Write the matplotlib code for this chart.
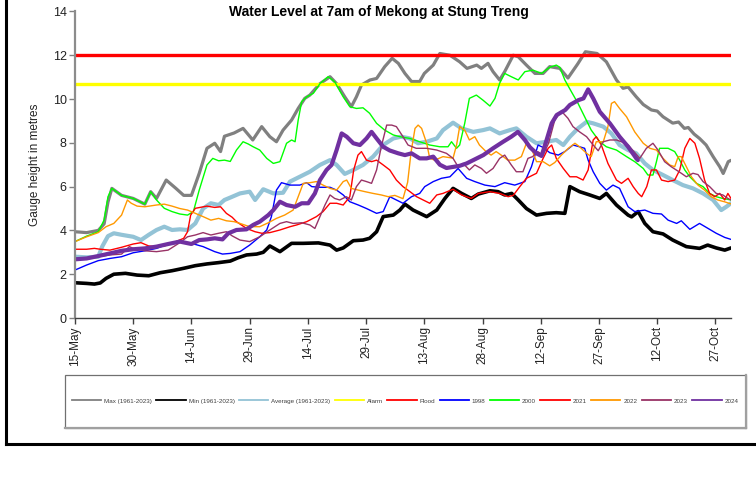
import matplotlib.pyplot as plt
from matplotlib.lines import Line2D
from matplotlib.patches import Rectangle

plt.rcParams['font.family'] = ['Liberation Sans', 'DejaVu Sans']

# x values are days after 15-May
tick_days = [0, 15, 30, 45, 60, 75, 90, 105, 120, 135, 150, 165]
tick_labels = ['15-May', '30-May', '14-Jun', '29-Jun', '14-Jul', '29-Jul',
               '13-Aug', '28-Aug', '12-Sep', '27-Sep', '12-Oct', '27-Oct']

alarm_level = 10.7
flood_level = 12.0

# (day, gauge height)
max_pts = [(0,3.94),(3,3.9),(6,4.0),(7.5,4.3),(8.5,5.3),(9.5,5.92),(12,5.6),(15,5.46),(18,5.2),(19.5,5.77),
           (21,5.46),(23.5,6.3),(26,5.92),(28,5.6),(30,5.6),(32,6.6),(34,7.75),(36,7.98),(37.5,7.6),(38.5,8.3),
           (41,8.45),(43.3,8.66),(45.8,8.13),(48.1,8.74),(50.2,8.28),(51.9,8.05),(53.6,8.58),(55.8,9.04),(57.5,9.57),
           (59.2,10.03),(60.5,10.18),(63.1,10.7),(65.7,11.02),(67.4,10.7),(69.5,10.1),(71.2,9.65),(72.5,10.1),
           (73.8,10.64),(76,10.87),(77.7,10.94),(79.8,11.48),(81.7,11.86),(83.3,11.63),(85,11.17),(86.7,10.8),
           (88.8,10.8),(90,11.17),(92.3,11.55),(94,12.08),(96.6,12.0),(99.1,11.7),(101,11.4),(103.5,11.55),
           (104.7,11.4),(106.4,11.63),(107.7,11.25),(109.4,10.87),(110.7,11.25),(112.9,12.0),(114.2,11.93),
           (116.3,11.55),(118.5,11.17),(120.6,11.17),(122.3,11.48),(124.9,11.4),(127,10.96),(129.5,11.6),
           (131.5,12.16),(134.5,12.08),(136.9,11.7),(139.5,10.87),(141.2,10.49),(142.5,10.55),(144.6,10.1),
           (146.4,9.75),(148.5,9.5),(150,9.45),(151.5,9.19),(154,8.9),(155.5,8.95),(157,8.66),(158,8.7),
           (159.5,8.4),(160.9,8.2),(162.6,7.9),(164.4,7.37),(166.1,6.91),(167,6.6),(168.3,7.14),(169,7.2)]

min_pts = [(0,1.61),(3,1.58),(5,1.55),(6.5,1.6),(8,1.81),(10,2.0),(13,2.04),(16,1.96),(19,1.93),(22,2.07),
           (25,2.16),(28,2.27),(31,2.39),(34,2.47),(37,2.53),(40,2.6),(42,2.75),(44.2,2.88),(46.8,2.92),(48.5,3.0),
           (50.2,3.29),(52.8,3.03),(55.8,3.41),(58.8,3.41),(62.7,3.43),(65.7,3.33),(67.4,3.1),(69.1,3.2),
           (71.7,3.53),(74.2,3.56),(75.9,3.64),(77.7,3.94),(79.4,4.63),(82,4.7),(83.7,4.93),(85,5.2),(87.1,4.93),
           (90.6,4.63),(93.2,4.93),(95.3,5.46),(97.4,5.92),(99.6,5.69),(102.1,5.46),(103.9,5.66),(106.9,5.81),
           (109,5.77),(110.7,5.62),(112.5,5.69),(114.2,5.39),(116.3,5.0),(118.9,4.7),(121.5,4.78),(124,4.81),
           (126.2,4.78),(127.5,6.0),(130,5.77),(132.6,5.62),(135.2,5.46),(136.9,5.69),(139.5,5.16),(142.5,4.7),
           (143.4,4.62),(145.1,4.86),(146.8,4.32),(148.9,3.94),(151.5,3.84),(154,3.56),(157.5,3.26),
           (160.9,3.18),(163,3.33),(165.2,3.2),(167.4,3.1),(169,3.2)]

avg_pts = [(0,2.8),(3,2.77),(6,2.8),(7,3.26),(8.5,3.74),(10,3.87),(12,3.8),(15,3.71),(17,3.56),(19,3.8),
           (21,4.02),(23,4.17),(25,4.02),(27,4.05),(29,4.02),(31,4.32),(33,5.0),(35,5.24),(37,5.16),(38.5,5.39),
           (40,5.5),(42.5,5.69),(45,5.77),(46.4,5.39),(48.5,5.88),(51.1,5.69),(53.6,5.72),(55.4,6.23),(57.9,6.45),
           (60.5,6.68),(63.1,6.99),(65.7,7.21),(67.4,6.99),(69.5,6.58),(71.7,6.76),(74.2,6.99),(76.8,7.37),
           (79.4,7.9),(82,8.2),(84,8.28),(86.3,8.2),(88.4,7.98),(90.6,8.05),(93.2,8.2),(94.8,8.58),(97.4,8.92),
           (99.6,8.66),(102.6,8.5),(105.1,8.58),(106.9,8.66),(109.4,8.43),(112,8.58),(113.7,8.66),(116.3,8.28),
           (118.9,7.98),(121.5,8.05),(124,8.13),(125.8,7.9),(127.5,8.28),(129.6,8.66),(131.8,8.96),(133.5,8.89),
           (136.1,8.74),(138.2,8.43),(140.3,7.9),(142.5,7.67),(144.6,7.52),(146.8,7.06),(148.9,6.76),
           (151.5,6.53),(154,6.3),(156.6,6.07),(159.2,5.92),(161.8,5.69),(164.4,5.39),(166.5,4.93),
           (167.8,5.08),(169,5.24)]

y1998_pts = [(0,2.19),(3,2.42),(6,2.62),(9,2.72),(12,2.8),(15,2.98),(18,3.07),(21,3.18),(24,3.38),(27,3.49),
             (30,3.41),(33,3.26),(36,3.03),(38,2.92),(40,2.95),(42.5,3.03),(45,3.33),(47.6,3.71),(49.4,4.02),
             (50.6,4.63),(51.9,5.84),(53.2,6.18),(55.4,6.07),(57.9,6.07),(59.7,6.18),(61,6.0),(63.1,5.97),
             (65.7,5.97),(67.4,5.84),(69.1,5.62),(70.8,5.31),(73,5.16),(75.1,5.0),(77.7,4.78),(79.4,4.86),
             (81.1,5.54),(82.8,5.39),(84.5,5.24),(86.7,5.54),(88.8,5.69),(90.1,6.0),(92.3,6.23),(94.4,6.38),
             (96.6,6.45),(98.7,6.83),(100.9,6.38),(103,6.23),(105.6,6.07),(108.2,6.0),(110.7,6.18),(113.3,6.07),
             (115.9,6.23),(117.6,6.91),(119.3,7.9),(120.6,7.79),(122.3,7.55),(124.5,7.44),(126.2,7.6),(128.3,7.9),
             (130,7.82),(131.3,7.75),(132.2,7.21),(133.5,6.68),(135.2,6.15),(136.9,5.84),(138.6,6.07),
             (140.3,5.92),(142.5,5.08),(144.2,4.86),(146.8,4.93),(148.9,4.78),(151.1,4.75),(152.8,4.47),
             (155,4.32),(156.2,4.44),(158.4,4.05),(160.9,4.32),(163.1,4.09),(165.2,3.87),(167.4,3.68),(169,3.59)]

y2000_pts = [(0,3.49),(3,3.74),(6,3.94),(7.5,4.47),(8.5,5.54),(9.5,5.92),(12,5.6),(15,5.46),(18,5.2),
             (19.5,5.77),(21,5.39),(23,5.01),(25,4.86),(27,4.75),(29,4.7),(30.5,4.86),(32,5.84),(34,6.99),
             (35.5,7.29),(37,7.18),(38.5,7.21),(40,7.15),(41.6,7.67),(43.3,8.05),(44.6,7.95),(45.9,7.82),
             (47.6,7.67),(49.4,7.29),(51.1,7.06),(52.8,7.14),(54.5,7.98),(55.8,8.13),(56.7,8.05),(57.5,9.04),
             (58.4,9.88),(59.7,10.1),(61.4,10.26),(63.1,10.7),(65.2,11.02),(66.9,10.79),(69.1,10.1),(70.8,9.65),
             (72.5,9.57),(74.2,9.6),(75.9,9.35),(77.7,8.89),(79.8,8.58),(82,8.36),(83.7,8.28),(86.3,8.2),
             (88.8,8.05),(91.4,7.9),(94,7.82),(96.1,7.82),(97,8.05),(98.3,7.75),(99.1,7.9),(100.4,8.89),
             (101.6,10.03),(103.4,10.18),(105.1,9.95),(106.9,9.68),(108.2,10.03),(109.4,10.72),(110.7,11.17),
             (112.4,11.02),(114.2,10.87),(115.9,11.25),(118,11.32),(120.2,11.17),(122.3,11.45),(124,11.55),
             (124.9,11.45),(126.2,10.87),(127.9,10.33),(129.6,9.8),(131.3,9.19),(133,8.58),(135.2,8.05),
             (136.9,7.82),(139.5,7.67),(142.1,7.37),(144.2,7.14),(146.4,6.83),(147.6,6.53),(148.9,6.53),
             (149.8,7.14),(150.6,7.75),(152.8,7.75),(154.5,7.6),(155.8,7.21),(157.1,6.76),(158.4,6.45),
             (160.1,6.15),(161.8,6.0),(163.5,5.69),(165.2,5.54),(166.9,5.46),(169,5.39)]

y2021_pts = [(0,3.14),(3,3.14),(5,3.18),(6.5,3.14),(9,3.1),(12,3.23),(15,3.38),(17,3.44),(19,3.29),(21,3.26),
             (23,3.29),(26,3.49),(28,3.64),(29,3.94),(29.8,4.7),(31,5.01),(34,5.11),(36,5.05),(37.5,5.08),
             (39,4.78),(40.5,4.6),(41.6,4.4),(44.2,4.09),(46.4,3.94),(48.1,3.87),(50.2,3.9),(52.8,4.02),
             (55.4,4.17),(57.1,4.25),(59.7,4.4),(62.2,4.63),(63.9,4.86),(65.7,5.24),(67.4,5.24),(69.1,5.16),
             (70.8,5.54),(71.8,6.76),(72.9,7.44),(73.8,7.6),(75.1,7.21),(76.4,7.14),(77.7,7.21),(79.4,6.99),
             (81.1,6.76),(82.8,6.3),(84.5,6.0),(86.3,5.77),(88,5.54),(89.7,5.39),(91.4,5.24),(93.2,5.62),
             (94.8,5.69),(97.4,5.88),(99.6,5.62),(102.1,5.46),(103.9,5.69),(106.9,5.77),(109.4,5.69),
             (111.6,5.54),(112.9,5.6),(114.6,6.0),(116.3,6.38),(118.9,6.61),(120.6,7.29),(121.9,7.75),
             (122.8,7.9),(124,7.29),(125.8,6.83),(127.5,6.45),(129.2,6.45),(130.9,6.3),(132.2,6.76),(133.5,8.13),
             (134.3,8.28),(135.6,7.9),(137.3,7.06),(139.5,6.3),(140.8,6.15),(142.5,6.38),(143.8,6.0),(145.1,5.69),
             (146,5.54),(147.3,6.0),(148.5,6.76),(149.8,6.76),(151.1,6.3),(152.8,6.23),(154.5,6.3),(155.8,6.76),
             (157.1,7.75),(158.4,8.2),(159.7,7.98),(160.9,7.29),(162.2,6.3),(163.5,5.69),(164.8,5.54),
             (166.1,5.69),(167.4,5.39),(168.2,5.69),(169,5.46)]

y2022_pts = [(0,3.49),(3,3.71),(6,3.9),(8,4.17),(10,4.32),(12,4.7),(13.5,5.39),(14.5,5.24),(16,5.11),(18,5.08),
             (21,5.16),(23,5.2),(25,5.11),(27,5.0),(29,4.93),(31,4.78),(33,4.63),(35,4.47),(37,4.55),(39,4.44),
             (41,4.4),(42.5,4.32),(45,4.17),(47.6,4.17),(49.8,4.35),(51.9,4.55),(54,4.7),(56.2,4.93),(57.5,5.54),
             (58.8,6.15),(60.5,6.18),(62.2,6.23),(63.9,6.07),(65.7,5.92),(67.4,5.84),(69.1,6.23),(70,6.3),
             (71.2,5.92),(73,5.84),(74.7,5.77),(76.8,5.69),(78.9,5.62),(80.7,5.54),(82.4,5.6),(84.5,5.45),
             (85.7,6.2),(86.6,7.6),(87.6,8.66),(88.4,8.81),(89.3,8.66),(90.6,7.98),(91.4,7.29),(92.7,7.21),
             (94.8,7.37),(97.4,7.3),(98.3,7.9),(99.1,8.74),(100.4,8.58),(101.6,8.13),(103,8.28),(104.2,7.9),
             (105.9,7.6),(107.2,7.44),(108.5,7.6),(109.8,7.44),(111.5,7.21),(113.3,7.21),(115,7.37),(116.3,7.98),
             (117.6,7.75),(118.9,7.14),(120.6,7.14),(122.3,6.95),(123.6,7.1),(125.3,7.44),(127.1,7.75),
             (128.8,7.98),(130,7.82),(131.8,7.52),(133,7.37),(134.3,8.05),(136.1,8.05),(137.3,8.74),(138.2,9.8),
             (139,9.88),(140.3,9.57),(142.1,9.19),(144.2,8.5),(146.4,7.98),(148.1,7.75),(149.8,7.67),
             (151.5,7.29),(153.2,6.99),(154.5,6.91),(155.4,7.37),(156.2,7.37),(157.5,6.91),(158.8,6.45),
             (160.5,6.07),(162.2,5.84),(163.9,5.54),(165.6,5.39),(167.3,5.31),(169,5.21)]

y2023_pts = [(0,2.72),(3,2.72),(6,2.8),(9,2.88),(12,2.92),(14,3.26),(15,3.18),(18,3.07),(21,3.03),(24,3.1),
             (27,3.44),(29,3.71),(31,3.79),(33,3.9),(35,3.79),(37,3.87),(39,3.94),(40.5,3.75),(42.5,3.56),
             (45,3.49),(47.6,3.71),(50.2,4.02),(52.8,4.32),(54.5,4.4),(56.2,4.32),(58.4,4.35),(60.5,4.25),
             (61.8,4.09),(63.1,4.63),(64.4,5.16),(65.7,5.62),(66.9,5.46),(68.2,5.39),(69.9,5.54),(71.2,5.39),
             (72.5,6.0),(73.8,6.3),(75.1,6.23),(76.4,6.15),(77.7,6.76),(78.9,7.82),(80.3,8.81),(81.6,8.81),
             (82.8,8.74),(84.5,8.28),(85.8,7.9),(87.9,7.75),(90.6,7.75),(93.2,7.67),(95.7,7.52),(97.4,7.29),
             (98.7,6.91),(100,7.06),(101.6,6.76),(103,6.99),(104.7,6.83),(106,6.61),(107.7,6.83),(109.4,7.29),
             (110.7,7.44),(112.4,6.99),(113.7,6.68),(115.4,6.68),(116.7,7.29),(117.9,7.37),(119.2,7.6),
             (120.6,7.44),(122,7.98),(123.6,9.04),(125.3,9.45),(127,9.12),(128.3,8.74),(130,8.5),(131.8,8.28),
             (133.5,7.9),(134.8,7.64),(136.1,8.05),(137.8,8.13),(139.5,8.13),(140.8,8.05),(142.5,7.9),(144,7.6),
             (145.5,7.29),(147.2,7.75),(148.9,7.98),(150.2,7.67),(151.9,7.14),(153.6,6.91),(154.9,6.76),
             (156.2,6.61),(157.5,6.45),(159.2,6.61),(160.5,6.55),(161.8,6.23),(163.5,6.0),(165.2,5.69),
             (166.9,5.62),(168.2,5.46),(169,5.39)]

y2024_pts = [(0,2.68),(3,2.72),(6,2.83),(9,2.95),(12,3.07),(15,3.14),(18,3.18),(21,3.26),(24,3.38),(27,3.49),
             (30,3.38),(32,3.56),(34,3.59),(36,3.64),(38,3.59),(39.5,3.87),(41.6,4.02),(44.2,4.05),(45.9,4.25),
             (47.6,4.4),(49.8,4.7),(51.1,4.93),(52.8,5.31),(54.5,5.16),(56.7,5.08),(58.4,5.24),(60.1,5.24),
             (61.8,5.69),(63.1,6.3),(64.8,6.76),(66.1,6.99),(67.4,7.67),(68.7,8.43),(70,8.28),(71.7,7.98),
             (73.4,7.9),(75.1,8.2),(76.4,8.5),(77.7,8.2),(79.4,7.82),(81.1,7.65),(83.3,7.52),(85,7.44),
             (86.7,7.52),(88.8,7.29),(90.6,7.29),(92.3,7.37),(94,7.0),(95.7,6.85),(97.4,6.9),(99.1,6.95),
             (100.9,7.06),(102.6,7.21),(105.2,7.44),(107.7,7.75),(110.3,8.05),(112.4,8.28),(114.1,8.5),
             (115.9,8.13),(117.2,7.8),(118.9,7.52),(120.2,7.4),(121.5,8.13),(122.8,8.89),(124.1,9.27),
             (126.3,9.5),(127.5,9.73),(129.7,9.95),(131,10.03),(132.2,10.44),(133.5,10.03),(135.2,9.42),
             (137.8,8.89),(140.3,8.28),(142.5,7.82),(144.6,7.29),(145,7.21)]

fig = plt.figure(figsize=(7.56, 4.79), dpi=100)
ax = fig.add_axes([0.0992, 0.3361, 0.8677, 0.640])


def draw(pts, color, lw):
    days = [p[0] for p in pts]
    vals = [p[1] for p in pts]
    ax.plot(days, vals, color=color, lw=lw, solid_joinstyle='round', solid_capstyle='round')


draw(max_pts, '#808080', 2.3)
draw(min_pts, '#000000', 2.6)
draw(avg_pts, '#93c3d6', 3.0)
ax.axhline(alarm_level, color='#ffff00', lw=2.4)
ax.axhline(flood_level, color='#ff0000', lw=2.4)
draw(y1998_pts, '#0000ff', 1.0)
draw(y2000_pts, '#00ff00', 1.0)
draw(y2021_pts, '#ff0000', 1.0)
draw(y2022_pts, '#ff9900', 1.0)
draw(y2023_pts, '#993366', 1.0)
draw(y2024_pts, '#7030a0', 3.0)

ax.set_xlim(0, 169)
ax.set_ylim(0, 14)
ax.set_yticks(range(0, 15, 2))
ax.set_xticks(tick_days)
ax.set_xticklabels(tick_labels, rotation=90)
ax.tick_params(axis='y', length=4, width=1, color='#808080', labelsize=9, labelcolor='#222222', pad=2)
ax.tick_params(axis='x', length=4, width=1, color='#404040', labelsize=8.5, labelcolor='#222222', pad=2)
for s in ['top', 'right']:
    ax.spines[s].set_visible(False)
ax.spines['left'].set_color('#8c8c8c')
ax.spines['left'].set_linewidth(1.6)
ax.spines['bottom'].set_color('#404040')
ax.spines['bottom'].set_linewidth(1.0)

ax.set_ylabel('Gauge height in metres', fontsize=8.5, color='#222222')
ax.yaxis.set_label_coords(-0.052, 0.5)

fig.text(0.501, 0.975, 'Water Level at 7am of Mekong at Stung Treng', ha='center', va='center',
         fontsize=10, fontweight='bold')

# legend
names = ['Max (1961-2023)', 'Min (1961-2023)', 'Average (1961-2023)', 'Alarm', 'Flood',
         '1998', '2000', '2021', '2022', '2023', '2024']
colors = ['#808080', '#000000', '#93c3d6', '#ffff00', '#ff0000',
          '#0000ff', '#00ff00', '#ff0000', '#ff9900', '#993366', '#7030a0']
handles = [Line2D([], [], color=c, lw=1.3) for c in colors]
fig.legend(handles, names, loc='center', bbox_to_anchor=(0.536, 0.163), ncol=11, frameon=False,
           fontsize=4.5, handlelength=4.7, handletextpad=0.45, columnspacing=0.7, labelcolor='#404040')

fig.patches.append(Rectangle((0.086, 0.1071), 0.9004, 0.1107, transform=fig.transFigure,
                             fill=False, edgecolor='#707070', lw=0.9))
fig.lines.append(Line2D([0.086, 0.9864], [0.1071, 0.1071], transform=fig.transFigure, color='#a0a0a0', lw=1.6))
fig.lines.append(Line2D([0.9864, 0.9864], [0.1071, 0.2178], transform=fig.transFigure, color='#a0a0a0', lw=1.6))

# outer frame of the original sheet
fig.lines.append(Line2D([0.0079, 0.0079], [0.0731, 1.0], transform=fig.transFigure, color='black', lw=2.2))
fig.lines.append(Line2D([0.0079, 1.0], [0.0731, 0.0731], transform=fig.transFigure, color='black', lw=2.2))

fig.savefig('out.png', dpi=100)
